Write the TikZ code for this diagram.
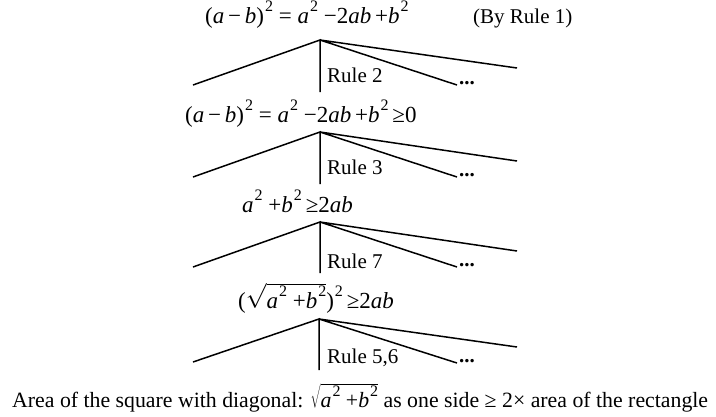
\documentclass[tikz,border=0pt]{standalone}
\usepackage{fontspec}
\setmainfont{Liberation Serif}
\newcommand{\sqr}{\kern1pt\raisebox{0.5em}{\fontsize{16}{16}\selectfont 2}}
\newcommand{\vi}[1]{\textit{#1}}
\begin{document}
\begin{tikzpicture}[x=1pt,y=-1pt,
  txt/.style={anchor=base west,inner sep=0pt,font=\fontsize{21}{24}\selectfont},
  eq/.style={txt,font=\fontsize{23}{24}\selectfont},
  branch/.style={line width=1.5pt}]
\useasboundingbox (0,0) rectangle (716,416);
% level 1
\node[eq] (eq1) at (205,23) {(\vi{a}\,−\,\vi{b})\sqr{} = \vi{a}\sqr{} −2\vi{ab}\,+\vi{b}\sqr};
\node[txt] (by1) at (473,23) {(By Rule 1)};
\coordinate (p1) at (320,40);
\coordinate (l1) at (193,85);
\coordinate (m1) at (320,92);
\coordinate (r1) at (457,85);
\coordinate (f1) at (517,68);
\node[txt] (rule2) at (327,82) {Rule 2};
\node[txt] (d1) at (459,84) {\textbf{...}};
\draw[branch] (l1) -- (p1) -- (m1) (p1) -- (r1) (p1) -- (f1);
% level 2
\node[eq] (eq2) at (185,122) {(\vi{a}\,−\,\vi{b})\sqr{} = \vi{a}\sqr{} −2\vi{ab}\,+\vi{b}\sqr{}\,≥0};
\coordinate (p2) at (320,132);
\coordinate (l2) at (193,177);
\coordinate (m2) at (320,184);
\coordinate (r2) at (457,177);
\coordinate (f2) at (517,161);
\node[txt] (rule3) at (327,174) {Rule 3};
\node[txt] (d2) at (459,176) {\textbf{...}};
\draw[branch] (l2) -- (p2) -- (m2) (p2) -- (r2) (p2) -- (f2);
% level 3
\node[eq] (eq3) at (242,212) {\vi{a}\sqr{} +\vi{b}\sqr{}\,≥2\vi{ab}};
\coordinate (p3) at (320,222);
\coordinate (l3) at (193,267);
\coordinate (m3) at (320,273);
\coordinate (r3) at (457,267);
\coordinate (f3) at (517,251);
\node[txt] (rule7) at (327,268) {Rule 7};
\node[txt] (d3) at (459,266) {\textbf{...}};
\draw[branch] (l3) -- (p3) -- (m3) (p3) -- (r3) (p3) -- (f3);
% level 4
\node[eq] (eq4) at (238,308) {($\sqrt{\hbox{\vi{a}\sqr{} +\vi{b}\sqr}}$)\sqr{}\,≥2\vi{ab}};
\coordinate (p4) at (319,319);
\coordinate (l4) at (193,362);
\coordinate (m4) at (319,370);
\coordinate (r4) at (457,363);
\coordinate (f4) at (517,347);
\node[txt] (rule56) at (327,363) {Rule 5,6};
\node[txt] (d4) at (459,362) {\textbf{...}};
\draw[branch] (l4) -- (p4) -- (m4) (p4) -- (r4) (p4) -- (f4);
% bottom
\node[txt,font=\fontsize{21.8}{24}\selectfont] (concl) at (12,407) {Area of the square with diagonal: $\sqrt{\hbox{\vi{a}\sqr{} +\vi{b}\sqr}}$ as one side ≥ 2× area of the rectangle};
\end{tikzpicture}
\end{document}
